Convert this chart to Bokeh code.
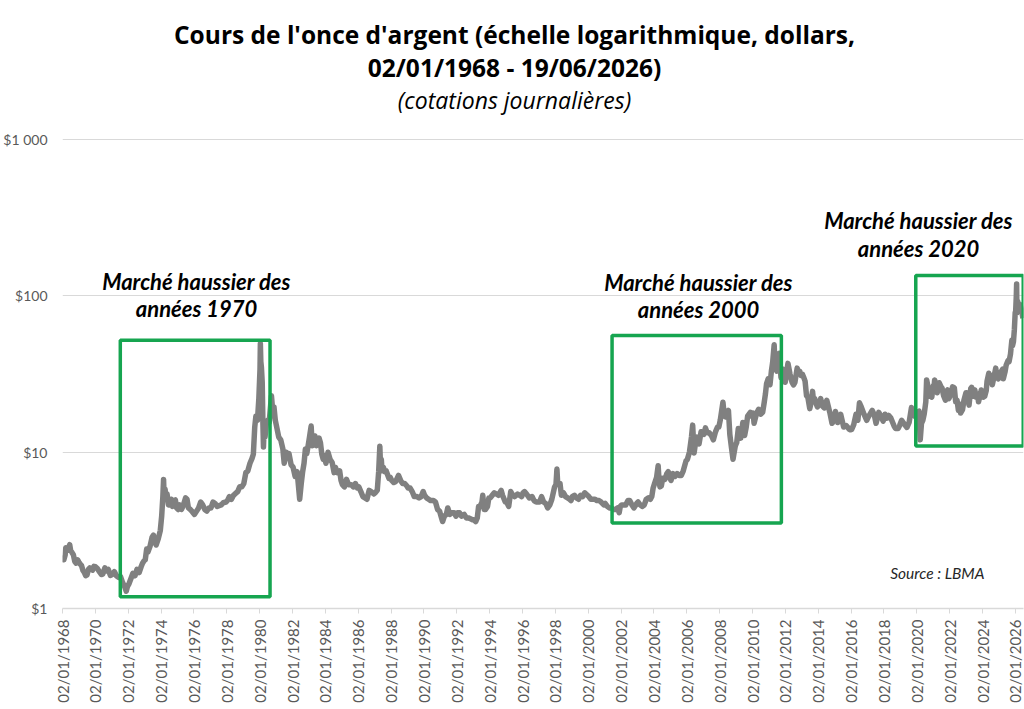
import pandas as pd
from math import pi
from datetime import datetime
from bokeh.plotting import figure
from bokeh.models import (Range1d, FixedTicker, DatetimeTickFormatter, Label, ColumnDataSource)
from bokeh.embed import file_html
from bokeh.resources import INLINE

# ---------------- data ----------------
dates = [
    "1968-01-02", "1968-02-01", "1968-03-01", "1968-03-15", "1968-04-15", "1968-05-15", "1968-06-10", "1968-07-01", "1968-08-01", "1968-09-01", "1968-10-01", "1968-11-01", "1968-12-01",
    "1969-01-02", "1969-02-01", "1969-03-01", "1969-04-01", "1969-05-01", "1969-06-01", "1969-07-01", "1969-08-01", "1969-09-01", "1969-10-01", "1969-11-01", "1969-12-01",
    "1970-01-02", "1970-02-15", "1970-04-01", "1970-05-15", "1970-06-15", "1970-08-01", "1970-09-01", "1970-10-15", "1970-12-01",
    "1971-01-15", "1971-03-01", "1971-04-15", "1971-06-01", "1971-07-15", "1971-09-01", "1971-10-15", "1971-11-20", "1971-12-15",
    "1972-01-15", "1972-03-01", "1972-04-15", "1972-06-01", "1972-07-15", "1972-09-01", "1972-10-15", "1972-11-15", "1972-12-20",
    "1973-01-15", "1973-02-15", "1973-03-15", "1973-05-01", "1973-06-15", "1973-07-15", "1973-08-15", "1973-09-15", "1973-11-01", "1973-12-15",
    "1974-01-15", "1974-02-10", "1974-02-26", "1974-03-10", "1974-04-01", "1974-04-20", "1974-05-15", "1974-06-15", "1974-07-15", "1974-08-15", "1974-09-15", "1974-10-15", "1974-11-15", "1974-12-15",
    "1975-01-15", "1975-02-15", "1975-04-01", "1975-05-15", "1975-07-01", "1975-08-01", "1975-09-01", "1975-10-15", "1975-12-01",
    "1976-01-15", "1976-03-01", "1976-04-15", "1976-06-01", "1976-07-15", "1976-09-01", "1976-10-15", "1976-12-01",
    "1977-01-15", "1977-03-01", "1977-04-15", "1977-06-01", "1977-07-15", "1977-09-01", "1977-10-15", "1977-12-15",
    "1978-01-15", "1978-03-01", "1978-04-15", "1978-06-01", "1978-07-15", "1978-09-01", "1978-10-15", "1978-12-01",
    "1979-01-15", "1979-03-01", "1979-04-15", "1979-06-01", "1979-07-15", "1979-08-15", "1979-09-15", "1979-10-10", "1979-11-15", "1979-12-15",
    "1980-01-10", "1980-01-18", "1980-01-28", "1980-02-10", "1980-02-28", "1980-03-15", "1980-03-27", "1980-04-10", "1980-05-01", "1980-06-01", "1980-07-01", "1980-08-01", "1980-09-20", "1980-10-15", "1980-11-15", "1980-12-15",
    "1981-01-15", "1981-03-01", "1981-04-15", "1981-06-01", "1981-07-01", "1981-08-15", "1981-09-15", "1981-10-15", "1981-12-01",
    "1982-01-15", "1982-03-01", "1982-04-15", "1982-06-10", "1982-07-15", "1982-08-15", "1982-09-15", "1982-10-15", "1982-11-15", "1982-12-15",
    "1983-01-15", "1983-02-20", "1983-03-15", "1983-04-15", "1983-05-15", "1983-06-15", "1983-07-15", "1983-08-15", "1983-09-15", "1983-10-15", "1983-11-15", "1983-12-15",
    "1984-01-15", "1984-03-01", "1984-04-15", "1984-06-01", "1984-07-15", "1984-08-15", "1984-09-15", "1984-10-15", "1984-11-15", "1984-12-15",
    "1985-01-15", "1985-03-01", "1985-04-15", "1985-06-01", "1985-08-01", "1985-09-15", "1985-11-01", "1985-12-15",
    "1986-01-15", "1986-03-01", "1986-04-15", "1986-06-01", "1986-07-15", "1986-09-01", "1986-10-15", "1986-12-15",
    "1987-01-15", "1987-03-01", "1987-04-01", "1987-04-27", "1987-05-10", "1987-05-30", "1987-06-15", "1987-07-15", "1987-08-15", "1987-09-15", "1987-10-15", "1987-11-15", "1987-12-15",
    "1988-01-15", "1988-03-01", "1988-04-15", "1988-06-15", "1988-08-01", "1988-09-15", "1988-11-01", "1988-12-15",
    "1989-01-15", "1989-03-01", "1989-04-15", "1989-06-01", "1989-08-01", "1989-09-15", "1989-11-01", "1989-12-15",
    "1990-01-15", "1990-03-01", "1990-04-15", "1990-06-01", "1990-08-01", "1990-09-15", "1990-11-01", "1990-12-15",
    "1991-01-15", "1991-02-20", "1991-04-01", "1991-05-15", "1991-06-15", "1991-08-01", "1991-09-15", "1991-11-01", "1991-12-15",
    "1992-01-15", "1992-03-01", "1992-04-15", "1992-06-15", "1992-08-01", "1992-09-15", "1992-11-01", "1992-12-15",
    "1993-01-15", "1993-02-25", "1993-04-01", "1993-05-01", "1993-06-01", "1993-07-15", "1993-08-01", "1993-09-01", "1993-10-01", "1993-11-15", "1993-12-15",
    "1994-01-15", "1994-03-01", "1994-04-15", "1994-06-01", "1994-07-15", "1994-09-15", "1994-10-15", "1994-12-15",
    "1995-01-15", "1995-03-01", "1995-04-15", "1995-06-01", "1995-07-15", "1995-09-15", "1995-11-01", "1995-12-15",
    "1996-01-15", "1996-02-15", "1996-04-01", "1996-06-01", "1996-08-01", "1996-09-15", "1996-11-01", "1996-12-15",
    "1997-01-15", "1997-03-01", "1997-04-15", "1997-06-01", "1997-07-15", "1997-09-01", "1997-10-15", "1997-12-15",
    "1998-01-15", "1998-02-05", "1998-02-20", "1998-03-15", "1998-04-15", "1998-05-15", "1998-07-01", "1998-08-15", "1998-10-01", "1998-11-15", "1998-12-15",
    "1999-01-15", "1999-03-01", "1999-04-15", "1999-06-01", "1999-07-15", "1999-09-01", "1999-10-15", "1999-12-15",
    "2000-01-15", "2000-03-01", "2000-04-15", "2000-06-01", "2000-07-15", "2000-09-01", "2000-10-15", "2000-12-15",
    "2001-01-15", "2001-03-01", "2001-04-15", "2001-06-01", "2001-07-15", "2001-09-01", "2001-10-15", "2001-11-20", "2001-12-15",
    "2002-01-15", "2002-03-01", "2002-04-15", "2002-06-01", "2002-07-15", "2002-09-01", "2002-10-15", "2002-12-15",
    "2003-01-15", "2003-03-01", "2003-04-15", "2003-06-01", "2003-07-15", "2003-09-01", "2003-10-15", "2003-11-15", "2003-12-15",
    "2004-01-15", "2004-03-01", "2004-04-05", "2004-04-25", "2004-05-15", "2004-06-15", "2004-07-15", "2004-09-01", "2004-10-15", "2004-11-15", "2004-12-15",
    "2005-01-15", "2005-03-01", "2005-04-15", "2005-06-01", "2005-07-15", "2005-09-01", "2005-10-15", "2005-12-15",
    "2006-01-15", "2006-03-01", "2006-04-15", "2006-05-12", "2006-06-13", "2006-07-15", "2006-08-15", "2006-10-01", "2006-11-15", "2006-12-15",
    "2007-01-15", "2007-02-20", "2007-04-01", "2007-05-15", "2007-07-01", "2007-08-15", "2007-10-01", "2007-11-15", "2007-12-15",
    "2008-01-15", "2008-03-15", "2008-04-15", "2008-05-15", "2008-07-15", "2008-08-15", "2008-09-15", "2008-10-25", "2008-11-15", "2008-12-15",
    "2009-01-15", "2009-02-20", "2009-03-15", "2009-04-15", "2009-06-01", "2009-07-10", "2009-08-15", "2009-09-15", "2009-11-15", "2009-12-15",
    "2010-01-15", "2010-02-05", "2010-04-01", "2010-05-15", "2010-07-01", "2010-08-15", "2010-09-15", "2010-10-15", "2010-11-10", "2010-12-15",
    "2011-01-25", "2011-02-25", "2011-03-25", "2011-04-28", "2011-05-15", "2011-06-28", "2011-07-15", "2011-08-22", "2011-09-26", "2011-10-15", "2011-11-10", "2011-12-29",
    "2012-01-15", "2012-02-28", "2012-04-15", "2012-05-30", "2012-07-01", "2012-08-01", "2012-09-20", "2012-10-15", "2012-11-15", "2012-12-15",
    "2013-01-15", "2013-02-15", "2013-03-15", "2013-04-16", "2013-05-15", "2013-06-27", "2013-07-15", "2013-08-28", "2013-09-15", "2013-10-15", "2013-11-15", "2013-12-15",
    "2014-01-15", "2014-02-25", "2014-04-01", "2014-05-15", "2014-07-10", "2014-09-15", "2014-11-05", "2014-12-15",
    "2015-01-20", "2015-03-10", "2015-05-15", "2015-07-20", "2015-09-15", "2015-11-25", "2015-12-15",
    "2016-01-15", "2016-03-01", "2016-04-20", "2016-06-01", "2016-07-06", "2016-08-15", "2016-10-15", "2016-12-15",
    "2017-01-15", "2017-04-15", "2017-06-01", "2017-07-10", "2017-09-08", "2017-10-15", "2017-12-15",
    "2018-01-25", "2018-03-15", "2018-04-15", "2018-06-01", "2018-08-15", "2018-09-15", "2018-11-15", "2018-12-15",
    "2019-01-30", "2019-03-15", "2019-05-28", "2019-07-15", "2019-09-05", "2019-10-15", "2019-11-15", "2019-12-20",
    "2020-01-15", "2020-02-20", "2020-03-18", "2020-04-15", "2020-05-15", "2020-06-15", "2020-07-20", "2020-08-07", "2020-08-30", "2020-09-25", "2020-10-15", "2020-11-30", "2020-12-30",
    "2021-01-15", "2021-02-01", "2021-03-01", "2021-03-31", "2021-05-15", "2021-06-30", "2021-07-15", "2021-08-20", "2021-09-30", "2021-10-20", "2021-11-15", "2021-12-15",
    "2022-01-15", "2022-03-08", "2022-04-15", "2022-05-15", "2022-06-15", "2022-07-15", "2022-08-15", "2022-09-01", "2022-10-15", "2022-11-15", "2022-12-30",
    "2023-01-15", "2023-02-28", "2023-03-08", "2023-04-15", "2023-05-05", "2023-06-15", "2023-07-15", "2023-08-15", "2023-09-15", "2023-10-05", "2023-11-15", "2023-12-05",
    "2024-01-20", "2024-02-20", "2024-03-25", "2024-04-12", "2024-05-20", "2024-06-15", "2024-07-10", "2024-08-07", "2024-09-25", "2024-10-22", "2024-11-15", "2024-12-15",
    "2025-01-15", "2025-02-15", "2025-03-25", "2025-04-08", "2025-05-15", "2025-06-10", "2025-07-20", "2025-08-15", "2025-09-15", "2025-10-15", "2025-10-30", "2025-11-20", "2025-12-10", "2025-12-28",
    "2026-01-08", "2026-01-22", "2026-01-29", "2026-02-05", "2026-02-25", "2026-03-20", "2026-04-15", "2026-05-15", "2026-06-19",
]
prices = [
    2.17, 2.05, 2.20, 2.45, 2.35, 2.45, 2.56, 2.35, 2.28, 2.20, 2.00, 1.95, 2.05,
    1.98, 1.92, 1.88, 1.75, 1.70, 1.62, 1.64, 1.78, 1.82, 1.80, 1.76, 1.86,
    1.85, 1.80, 1.72, 1.65, 1.66, 1.82, 1.74, 1.78, 1.63,
    1.65, 1.72, 1.62, 1.58, 1.60, 1.46, 1.38, 1.29, 1.38,
    1.43, 1.55, 1.68, 1.62, 1.78, 1.70, 1.85, 1.95, 2.02,
    2.05, 2.40, 2.30, 2.50, 2.85, 2.95, 2.65, 2.55, 2.80, 3.15,
    3.90, 5.20, 6.70, 5.20, 5.80, 5.00, 5.40, 4.60, 4.60, 5.00, 4.50, 4.90, 4.95, 4.40,
    4.30, 4.60, 4.30, 4.60, 5.10, 5.00, 4.40, 4.30, 4.15,
    4.00, 4.20, 4.40, 4.80, 4.60, 4.30, 4.20, 4.40,
    4.40, 4.80, 4.70, 4.50, 4.55, 4.60, 4.75, 4.80,
    4.90, 5.20, 5.00, 5.30, 5.45, 5.60, 6.00, 6.00,
    6.30, 7.40, 7.60, 8.50, 9.10, 9.70, 14.5, 17.0, 16.0, 22.0,
    34.0, 49.5, 38.0, 35.0, 28.0, 15.0, 10.8, 14.0, 12.5, 15.5, 16.0, 15.5, 23.0, 19.0, 19.5, 16.0,
    14.5, 12.5, 12.0, 10.5, 8.5, 10.0, 9.3, 9.8, 8.3,
    8.0, 7.0, 7.5, 5.0, 6.3, 7.5, 8.5, 10.5, 9.8, 11.0,
    12.5, 14.7, 11.0, 11.8, 12.7, 11.0, 12.0, 12.3, 11.5, 9.7, 9.0, 9.5,
    8.5, 10.0, 9.0, 8.6, 7.4, 8.0, 7.4, 7.4, 7.6, 6.6,
    6.2, 6.0, 6.7, 6.2, 6.2, 6.0, 6.3, 5.9,
    6.0, 5.6, 5.2, 5.1, 5.0, 5.7, 5.6, 5.4,
    5.5, 5.7, 7.5, 10.9, 8.5, 9.0, 7.6, 8.0, 7.5, 7.6, 7.2, 6.8, 6.9,
    6.6, 6.4, 6.5, 7.1, 6.6, 6.3, 6.3, 6.1,
    5.9, 5.9, 5.6, 5.2, 5.2, 5.1, 5.2, 5.6,
    5.3, 5.1, 5.0, 4.9, 4.9, 4.8, 4.3, 4.2,
    3.9, 3.6, 3.9, 4.0, 4.4, 4.0, 4.1, 4.1, 3.9,
    4.1, 4.1, 3.9, 4.0, 3.8, 3.8, 3.75, 3.7,
    3.7, 3.6, 3.8, 4.5, 4.5, 4.8, 5.3, 4.3, 4.3, 4.5, 5.1,
    5.1, 5.3, 5.5, 5.4, 5.3, 5.7, 5.3, 4.8,
    4.8, 4.5, 5.6, 5.3, 5.2, 5.4, 5.3, 5.2,
    5.5, 5.6, 5.4, 5.1, 5.2, 4.9, 4.8, 4.8,
    4.8, 5.2, 4.8, 4.7, 4.4, 4.6, 5.0, 6.0,
    6.2, 7.8, 6.5, 6.2, 6.3, 5.3, 5.5, 5.2, 5.1, 5.0, 4.9,
    5.2, 5.3, 5.1, 5.0, 5.3, 5.2, 5.5, 5.3,
    5.2, 5.0, 5.0, 5.0, 4.9, 4.9, 4.8, 4.6,
    4.7, 4.5, 4.4, 4.4, 4.3, 4.3, 4.4, 4.1, 4.5,
    4.6, 4.6, 4.6, 4.9, 4.9, 4.6, 4.4, 4.7,
    4.8, 4.6, 4.5, 4.6, 5.0, 5.1, 5.0, 5.2, 5.9,
    6.3, 6.9, 8.2, 6.5, 6.0, 6.1, 6.8, 6.7, 7.3, 7.5, 6.9,
    6.6, 7.3, 7.0, 7.3, 7.1, 7.1, 7.6, 8.8,
    9.0, 10.0, 12.5, 14.9, 9.9, 11.5, 12.5, 11.3, 13.5, 13.2,
    13.0, 14.3, 13.3, 13.3, 12.8, 12.0, 13.5, 14.5, 14.5,
    16.0, 20.9, 17.0, 16.8, 18.5, 13.0, 11.0, 9.0, 9.8, 11.0,
    11.5, 14.2, 12.8, 12.3, 15.5, 12.8, 14.5, 17.0, 18.0, 17.0,
    17.8, 15.3, 17.7, 18.8, 17.5, 18.0, 20.5, 23.5, 27.5, 29.5,
    27.0, 33.0, 37.5, 48.7, 35.0, 33.0, 38.5, 43.0, 30.0, 32.0, 34.0, 28.0,
    30.0, 37.0, 31.5, 28.0, 27.0, 28.0, 34.5, 33.0, 33.0, 31.0,
    31.5, 30.0, 28.5, 23.0, 22.5, 19.0, 20.0, 24.5, 21.8, 22.0, 20.5, 19.5,
    20.2, 22.0, 19.8, 19.2, 21.5, 18.0, 15.3, 16.0,
    18.2, 15.5, 17.5, 14.5, 14.8, 14.0, 13.9,
    14.0, 15.0, 17.5, 16.0, 20.7, 19.5, 17.5, 16.0,
    16.7, 18.5, 17.3, 15.3, 18.0, 17.2, 15.8,
    17.5, 16.5, 17.2, 16.6, 14.7, 14.2, 14.2, 14.8,
    16.0, 15.3, 14.4, 15.5, 19.3, 17.5, 17.0, 17.5,
    18.0, 18.3, 12.0, 15.3, 16.0, 17.6, 21.0, 29.0, 27.0, 22.8, 24.3, 22.5, 26.5,
    25.0, 29.0, 26.5, 24.0, 27.8, 26.0, 25.8, 23.0, 21.5, 24.5, 25.0, 22.0,
    23.0, 26.2, 25.8, 21.0, 21.5, 18.5, 20.3, 17.8, 18.7, 21.5, 24.0,
    24.0, 20.8, 20.0, 25.5, 26.0, 22.8, 25.0, 22.5, 23.5, 21.0, 23.5, 25.0,
    22.5, 22.8, 24.8, 28.5, 32.0, 29.5, 31.0, 27.0, 31.5, 34.5, 30.5, 29.5,
    30.0, 32.5, 34.0, 29.5, 32.5, 36.0, 38.5, 38.0, 42.5, 52.0, 48.0, 51.0, 61.0, 78.0,
    80.0, 100.0, 119.0, 78.0, 92.0, 80.0, 88.0, 82.0, 72.0,
]

tick_years = list(range(1968, 2027, 2))
y_ticks = [1, 10, 100, 1000]
y_tick_labels = ["$1", "$10", "$100", "$1 000"]

# bull-market frames
boxes_start = ["1971-07-10", "2001-06-15", "2019-12-10"]
boxes_end = ["1980-08-20", "2011-10-05", "2026-06-25"]
boxes_low = [1.19, 3.53, 10.97]
boxes_high = [52.0, 55.8, 135.0]
box_titles = ["années 1970", "années 2000", "années 2020"]

# ---------------- figure ----------------
df = pd.DataFrame({"date": pd.to_datetime(dates), "price": prices})
src = ColumnDataSource(df)

FONT = "Lato"
TFONT = "Open Sans"
W, H = 1024, 709
FRAME_BOTTOM = 608          # canvas y of the $1 line
PX_PER_DECADE = 156.3
# the frame reaches the top of the canvas so that the titles are drawn inside it
y_top = 10 ** (FRAME_BOTTOM / PX_PER_DECADE)

p = figure(width=W, height=H, x_axis_type="datetime", y_axis_type="log",
           x_range=Range1d(datetime(1968, 1, 2), datetime(2026, 7, 1)),
           y_range=Range1d(1, y_top),
           output_backend="svg", toolbar_location=None,
           min_border_left=60, min_border_right=1, min_border_top=0,
           min_border_bottom=H - FRAME_BOTTOM)
p.outline_line_color = None
p.background_fill_color = "white"
p.border_fill_color = "white"

p.xgrid.visible = False
p.ygrid.grid_line_color = "#d9d9d9"
p.ygrid.grid_line_width = 1
p.ygrid.minor_grid_line_color = None

# y axis
p.yaxis.ticker = FixedTicker(ticks=y_ticks)
p.yaxis.major_label_overrides = {t: l for t, l in zip(y_ticks, y_tick_labels)}
p.yaxis.axis_line_color = None
p.yaxis.major_tick_line_color = None
p.yaxis.minor_tick_line_color = None
p.yaxis.major_tick_out = 0
p.yaxis.major_tick_in = 0
p.yaxis.minor_tick_out = 0
p.yaxis.minor_tick_in = 0
p.yaxis.major_label_text_font = FONT
p.yaxis.major_label_text_font_size = "14px"
p.yaxis.major_label_text_color = "#595959"
p.yaxis.major_label_standoff = 15

# x axis
tick_ms = [pd.Timestamp(datetime(y, 1, 2)).value // 10**6 for y in tick_years]
p.xaxis.ticker = FixedTicker(ticks=tick_ms)
fmt = "%d/%m/%Y"
p.xaxis.formatter = DatetimeTickFormatter(years=fmt, months=fmt, days=fmt, hours=fmt,
                                          hourmin=fmt, minutes=fmt, minsec=fmt,
                                          seconds=fmt, milliseconds=fmt, microseconds=fmt)
p.xaxis.major_label_orientation = pi / 2
p.xaxis.axis_line_color = "#d9d9d9"
p.xaxis.axis_line_width = 1.5
p.xaxis.major_tick_line_color = "#d9d9d9"
p.xaxis.major_tick_out = 5
p.xaxis.major_tick_in = 0
p.xaxis.minor_tick_line_color = None
p.xaxis.major_label_text_font = FONT
p.xaxis.major_label_text_font_size = "15px"
p.xaxis.major_label_text_color = "#595959"
p.xaxis.major_label_standoff = 6

# price line
p.line("date", "price", source=src, line_color="#808080", line_width=5.5, line_join="round")

# green frames
bsrc = ColumnDataSource(dict(left=pd.to_datetime(boxes_start), right=pd.to_datetime(boxes_end),
                             bottom=boxes_low, top=boxes_high))
p.quad(left="left", right="right", bottom="bottom", top="top", source=bsrc,
       fill_alpha=0, line_color="#16a550", line_width=3.5)

# annotations of the three bull markets (screen units, relative to the frame)
ann_cx = [194, 696, 916]
ann_cy1 = [281, 282, 220]
ann_cy2 = [308, 309, 248]
for cx, cy1, cy2, t in zip(ann_cx, ann_cy1, ann_cy2, box_titles):
    for cy, txt in ((cy1, "Marché haussier des"), (cy2, t)):
        p.add_layout(Label(x=cx - 60, y=FRAME_BOTTOM - cy, x_units="screen", y_units="screen",
                           text=txt, text_align="center", text_baseline="middle",
                           text_font=FONT, text_font_size="22px",
                           text_font_style="bold italic", text_color="black"))

# titles
CX = 512 - 60
p.add_layout(Label(x=CX, y=FRAME_BOTTOM - 34, x_units="screen", y_units="screen",
                   text="Cours de l'once d'argent (échelle logarithmique, dollars,",
                   text_align="center", text_baseline="middle", text_font=TFONT,
                   text_font_size="24.5px", text_font_style="bold", text_color="black"))
p.add_layout(Label(x=CX, y=FRAME_BOTTOM - 67, x_units="screen", y_units="screen",
                   text="02/01/1968 - 19/06/2026)",
                   text_align="center", text_baseline="middle", text_font=TFONT,
                   text_font_size="24.5px", text_font_style="bold", text_color="black"))
p.add_layout(Label(x=CX, y=FRAME_BOTTOM - 99, x_units="screen", y_units="screen",
                   text="(cotations journalières)",
                   text_align="center", text_baseline="middle", text_font=TFONT,
                   text_font_size="23px", text_font_style="italic", text_color="black"))
p.add_layout(Label(x=982 - 60, y=FRAME_BOTTOM - 572, x_units="screen", y_units="screen",
                   text="Source : LBMA",
                   text_align="right", text_baseline="middle", text_font=FONT,
                   text_font_size="15.5px", text_font_style="italic", text_color="#262626"))

open("out.html", "w").write(file_html(p, INLINE))
